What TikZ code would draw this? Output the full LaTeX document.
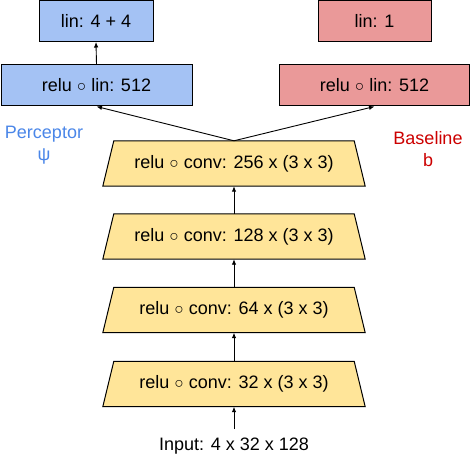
\documentclass[tikz,border=0pt]{standalone}
\usepackage{fontspec}
\setmainfont{Liberation Sans}
\usetikzlibrary{arrows.meta,calc,backgrounds}
\definecolor{blueb}{HTML}{A4C2F4}
\definecolor{redb}{HTML}{EA9999}
\definecolor{yellowb}{HTML}{FFE599}
\definecolor{perc}{HTML}{4A86E8}
\definecolor{basec}{HTML}{CC0000}
\newcommand{\ringop}{{\fontsize{15.5}{15.5}\selectfont ○}}
\begin{document}
\begin{tikzpicture}[x=1pt,y=-1pt,
  font=\fontsize{18}{22}\selectfont,
  box/.style={draw=black, line width=1pt, inner sep=0pt, minimum height=41pt},
  conv/.style={inner sep=0pt, minimum width=262pt, minimum height=45pt},
  trap/.style={fill=yellowb, draw=black, line width=1pt},
  arr/.style={-{Latex[length=5.5pt,width=4.5pt]}, line width=0.9pt}]
\useasboundingbox (0,0) rectangle (471,457);
% dense heads
\node[box, fill=blueb, minimum width=114pt] (bt) at (96,21) {lin: 4 + 4};
\node[box, fill=blueb, minimum width=191pt] (pr) at (96.5,85.5) {relu \ringop{} lin: 512};
\node[box, fill=redb, minimum width=113pt] (rt) at (374.5,21) {lin: 1};
\node[box, fill=redb, minimum width=190pt] (rr) at (374.5,85.5) {relu \ringop{} lin: 512};
% labels
\node[text=perc] (lp) at (44,134.5) {Perceptor};
\node[text=perc] (lpsi) at (44,156) {ψ};
\node[text=basec] (lb) at (428,138) {Baseline};
\node[text=basec] (lbb) at (428,160) {b};
% conv stack
\node[conv] (c256) at (234,163.5) {relu \ringop{} conv: 256 x (3 x 3)};
\node[conv] (c128) at (234,236.5) {relu \ringop{} conv: 128 x (3 x 3)};
\node[conv] (c64) at (234,310) {relu \ringop{} conv: 64 x (3 x 3)};
\node[conv] (c32) at (234,384) {relu \ringop{} conv: 32 x (3 x 3)};
\node[inner sep=9pt] (inp) at (234,446.5) {Input: 4 x 32 x 128};
\begin{scope}[on background layer]
\foreach \n in {c256,c128,c64,c32}{
  \draw[trap] (\n.south west) -- ($(\n.north west)+(11pt,0)$) -- ($(\n.north east)+(-11pt,0)$) -- (\n.south east) -- cycle;
}
\end{scope}
% connectors
\draw[arr] (pr.north) -- (bt.south);
\draw[arr] (c256.north) -- (pr.south);
\draw[arr] (c256.north) -- (rr.south);
\draw[arr] (c128.north) -- (c256.south);
\draw[arr] (c64.north) -- (c128.south);
\draw[arr] (c32.north) -- (c64.south);
\draw[arr] (inp.north) -- (c32.south);
\end{tikzpicture}
\end{document}
